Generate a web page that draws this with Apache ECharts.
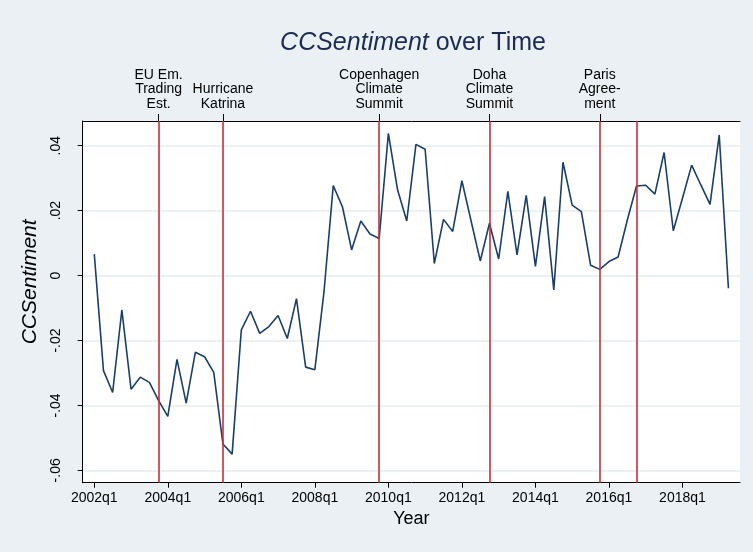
<!DOCTYPE html>
<html>
<head>
<meta charset="utf-8">
<title>CCSentiment over Time</title>
<script src="https://cdn.jsdelivr.net/npm/echarts@6/dist/echarts.min.js"></script>
<style>
  html, body { margin: 0; padding: 0; background: #eaf0f4; }
  #chart { width: 753px; height: 552px; }
</style>
</head>
<body>
<div id="chart"></div>
<script>
// quarterly series, first value is 2002q1
const startYear = 2002
const sentiment = [
  0.0066, -0.0293, -0.0360, -0.0106, -0.0350, -0.0313, -0.0329, -0.0385,
  -0.0434, -0.0258, -0.0393, -0.0236, -0.0250, -0.0298, -0.0519, -0.0550,
  -0.0167, -0.0110, -0.0178, -0.0157, -0.0123, -0.0194, -0.0071, -0.0282,
  -0.0290, -0.0049, 0.0277, 0.0212, 0.0079, 0.0168, 0.0128, 0.0114,
  0.0438, 0.0264, 0.0168, 0.0404, 0.0389, 0.0037, 0.0173, 0.0136,
  0.0292, 0.0168, 0.0045, 0.0161, 0.0051, 0.0259, 0.0064, 0.0247,
  0.0028, 0.0243, -0.0044, 0.0349, 0.0217, 0.0197, 0.0032, 0.0019,
  0.0043, 0.0057, 0.0171, 0.0276, 0.0278, 0.0251, 0.0379, 0.0138,
  0.0238, 0.0340, 0.0279, 0.0219, 0.0433, -0.0039
]

const xTickLabels = ['2002q1', '2004q1', '2006q1', '2008q1', '2010q1', '2012q1', '2014q1', '2016q1', '2018q1']
const yTicks = [-0.06, -0.04, -0.02, 0, 0.02, 0.04]

const eventQuarters = ['2003q4', '2005q3', '2009q4', '2012q4', '2015q4', '2016q4']
const eventLabels = ['EU Em.\nTrading\nEst.', 'Hurricane\nKatrina', 'Copenhagen\nClimate\nSummit', 'Doha\nClimate\nSummit', 'Paris\nAgree-\nment', '']

// '2004q1' -> quarters since start
const qIndex = s => (parseInt(s.slice(0, 4)) - startYear) * 4 + parseInt(s.slice(5)) - 1

const xTickPos = xTickLabels.map(qIndex)
const eventPos = eventQuarters.map(qIndex)
const labelledEvents = eventPos.filter((p, i) => eventLabels[i] !== '')

const font = 'Liberation Sans, Arial, Helvetica, sans-serif'

const chart = echarts.init(document.getElementById('chart'))
const option = {
  animation: false,
  backgroundColor: '#eaf0f4',
  title: {
    text: '{i|CCSentiment} over Time',
    left: 408,
    textAlign: 'center',
    top: 26,
    textStyle: {
      fontFamily: font,
      fontSize: 25,
      fontWeight: 'normal',
      color: '#1c2b52',
      rich: {
        i: { fontFamily: font, fontSize: 25, fontStyle: 'italic', color: '#1c2b52' }
      }
    }
  },
  grid: {
    left: 82.7,
    right: 13,
    top: 121,
    bottom: 69.3,
    show: true,
    backgroundColor: '#ffffff',
    borderWidth: 0
  },
  xAxis: [
    {
      type: 'value',
      position: 'bottom',
      min: -1.26,
      max: 70.26,
      axisLine: { show: true, onZero: false, lineStyle: { color: '#000', width: 1 } },
      axisTick: { show: true, length: 5, customValues: xTickPos, lineStyle: { color: '#000' } },
      axisLabel: {
        customValues: xTickPos,
        formatter: v => xTickLabels[xTickPos.indexOf(v)],
        fontFamily: font,
        fontSize: 14,
        color: '#000',
        margin: 8
      },
      splitLine: { show: false },
      name: 'Year',
      nameLocation: 'middle',
      nameGap: 26,
      nameTextStyle: { fontFamily: font, fontSize: 18, color: '#000' }
    },
    {
      type: 'value',
      position: 'top',
      min: -1.26,
      max: 70.26,
      axisLine: { show: true, onZero: false, lineStyle: { color: '#000', width: 1 } },
      axisTick: { show: true, length: 7, customValues: labelledEvents, lineStyle: { color: '#000' } },
      axisLabel: {
        customValues: labelledEvents,
        formatter: v => eventLabels[eventPos.indexOf(v)],
        fontFamily: font,
        fontSize: 14,
        lineHeight: 14.5,
        color: '#000',
        margin: 10
      },
      splitLine: { show: false }
    }
  ],
  yAxis: {
    type: 'value',
    min: -0.0638,
    max: 0.0476,
    axisLine: { show: true, onZero: false, lineStyle: { color: '#000', width: 1 } },
    axisTick: { show: true, length: 5, customValues: yTicks, lineStyle: { color: '#000' } },
    axisLabel: {
      customValues: yTicks,
      rotate: 90,
      formatter: v => v === 0 ? '0' : v.toFixed(2).replace('0.', '.'),
      fontFamily: font,
      fontSize: 14,
      color: '#000',
      margin: 20
    },
    splitLine: { show: true, lineStyle: { color: '#e6edf1', width: 1.5 } },
    name: 'CCSentiment',
    nameLocation: 'middle',
    nameRotate: 90,
    nameGap: 33,
    nameTextStyle: { fontFamily: font, fontSize: 21, fontStyle: 'italic', color: '#000', padding: [0, 0, 0, 40] }
  },
  series: [
    {
      type: 'line',
      xAxisIndex: 0,
      data: sentiment.map((v, i) => [i, v]),
      showSymbol: false,
      lineStyle: { color: '#1a3f68', width: 1.6 },
      z: 3,
      markLine: {
        silent: true,
        symbol: ['none', 'none'],
        label: { show: false },
        lineStyle: { color: '#c62f3d', width: 1.6, type: 'solid' },
        data: eventPos.map(p => ({ xAxis: p }))
      }
    }
  ]
}

chart.setOption(option)
</script>
</body>
</html>
